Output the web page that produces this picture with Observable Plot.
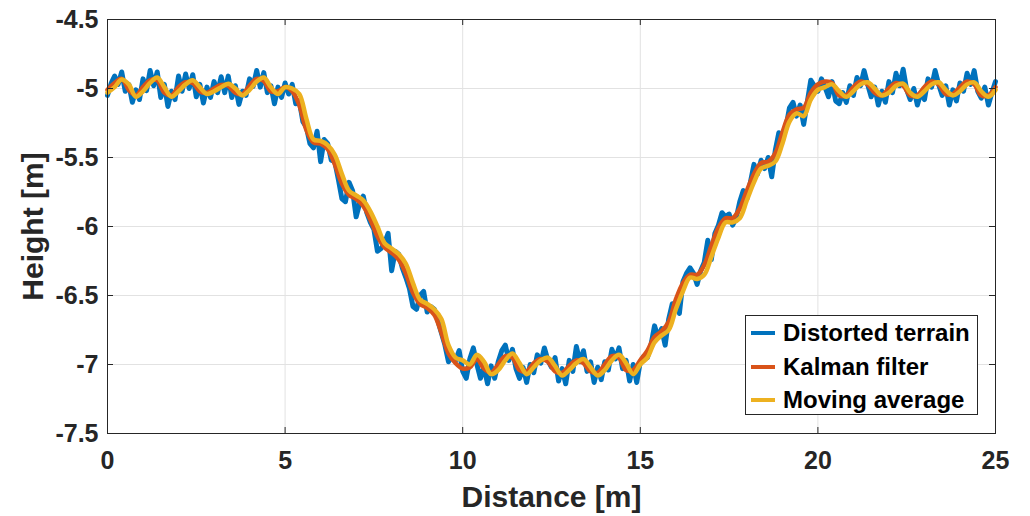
<!DOCTYPE html>
<html><head><meta charset="utf-8">
<script src="https://cdn.jsdelivr.net/npm/d3@7"></script>
<script src="https://cdn.jsdelivr.net/npm/@observablehq/plot@0.6"></script>
<style>
body{margin:0;background:#fff;}
#wrap{position:relative;width:1030px;height:516px;font-family:"Liberation Sans",Arial,Helvetica,sans-serif;}
#legend{position:absolute;left:745px;top:315px;width:233px;height:100px;border:1px solid #262626;background:#fff;box-sizing:border-box;}
.row{position:absolute;left:0;height:30px;display:flex;align-items:center;}
.sw{width:24px;height:4px;margin-left:5px;margin-right:8px;}
.lbl{font-size:24px;font-weight:bold;color:#000;white-space:nowrap;}
</style></head><body><div id="wrap"></div>
<script>
// Tick values
const xTicks = [0, 5, 10, 15, 20, 25];
const yTicks = [-7.5, -7, -6.5, -6, -5.5, -5, -4.5];

// Series names and colours
const seriesNames = ["Distorted terrain", "Kalman filter", "Moving average"];
const seriesColors = ["#0072BD", "#D95319", "#EDB120"];

// Distorted terrain, sampled every 0.1 m from 0 to 25 m
const terrainStep = 0.1;
const terrainHeight = [
 -5.05,-4.965,-4.91,-4.97,-4.88,-5.02,-4.97,-5.10,-5.01,-5.08,
 -4.93,-5.015,-4.87,-4.98,-4.88,-5.065,-4.97,-5.13,-5.02,-5.08,
 -4.91,-5.02,-4.895,-5.0,-4.90,-5.06,-4.97,-5.105,-4.99,-5.065,
 -4.95,-5.03,-4.915,-5.03,-4.91,-5.065,-4.98,-5.115,-5.02,-5.05,
 -4.93,-4.985,-4.87,-4.99,-4.885,-5.03,-4.98,-5.11,-4.99,-5.065,
 -4.96,-5.04,-4.97,-5.11,-5.09,-5.24,-5.28,-5.40,-5.43,-5.31,
 -5.53,-5.37,-5.40,-5.52,-5.53,-5.66,-5.80,-5.82,-5.68,-5.74,
 -5.93,-5.83,-5.78,-5.90,-5.97,-6.02,-6.18,-6.16,-6.12,-6.05,
 -6.32,-6.18,-6.20,-6.30,-6.37,-6.45,-6.58,-6.60,-6.50,-6.47,
 -6.62,-6.58,-6.60,-6.68,-6.77,-6.86,-6.98,-6.93,-6.97,-6.90,
 -7.05,-7.10,-6.96,-6.88,-7.0,-7.1,-7.02,-7.14,-7.01,-7.10,
 -6.98,-6.90,-6.86,-6.97,-6.89,-7.03,-7.10,-7.02,-7.13,-7.0,
 -7.06,-6.93,-6.99,-6.88,-6.97,-7.02,-6.95,-7.12,-7.03,-7.14,
 -6.97,-7.05,-6.87,-6.98,-6.90,-7.05,-6.98,-7.13,-7.02,-7.11,
 -6.98,-7.04,-6.89,-6.96,-6.88,-7.03,-6.97,-7.12,-7.0,-7.13,
 -6.98,-6.94,-6.95,-6.86,-6.72,-6.80,-6.74,-6.86,-6.67,-6.56,
 -6.56,-6.63,-6.40,-6.34,-6.30,-6.34,-6.42,-6.32,-6.26,-6.10,
 -6.24,-6.05,-5.99,-5.90,-5.93,-5.91,-5.99,-5.94,-5.82,-5.74,
 -5.80,-5.68,-5.55,-5.62,-5.52,-5.58,-5.50,-5.64,-5.45,-5.32,
 -5.38,-5.28,-5.14,-5.10,-5.20,-5.12,-5.26,-5.10,-4.94,-4.98,
 -5.02,-4.93,-4.99,-5.06,-4.95,-5.09,-5.11,-5.03,-5.10,-4.98,
 -5.05,-4.92,-4.98,-4.87,-4.97,-5.06,-4.99,-5.12,-5.02,-5.10,
 -4.95,-5.03,-4.89,-4.98,-4.86,-5.01,-5.08,-5.0,-5.12,-5.03,
 -5.08,-4.93,-4.99,-4.87,-4.97,-5.05,-4.98,-5.12,-5.01,-5.09,
 -4.96,-5.02,-4.89,-4.97,-4.87,-5.02,-5.07,-4.99,-5.12,-5.03,
 -4.95
];

// Filtered estimates, sampled every 0.2 m from 0 to 25 m
const filterStep = 0.2;
const kalmanHeight = [
 -5.01,-4.96,-4.93,-5.01,-5.05,-4.99,-4.94,-4.94,-5.03,-5.05,
 -4.99,-4.955,-4.96,-5.02,-5.03,-5.0,-4.975,-4.98,-5.03,-5.04,
 -4.98,-4.93,-4.945,-5.02,-5.02,-4.99,-5.02,-5.12,-5.3,-5.39,
 -5.4,-5.44,-5.55,-5.69,-5.77,-5.8,-5.85,-5.95,-6.07,-6.15,
 -6.19,-6.24,-6.34,-6.48,-6.56,-6.59,-6.64,-6.77,-6.92,-6.99,
 -7.03,-7.02,-6.96,-7.03,-7.06,-7.0,-6.94,-6.95,-7.04,-7.05,
 -6.99,-6.96,-6.98,-7.05,-7.06,-7.01,-6.97,-6.99,-7.05,-7.06,
 -7.0,-6.94,-6.95,-7.04,-7.04,-6.97,-6.9,-6.8,-6.76,-6.69,
 -6.53,-6.41,-6.35,-6.35,-6.28,-6.14,-6.01,-5.94,-5.94,-5.87,
 -5.74,-5.62,-5.54,-5.53,-5.47,-5.32,-5.19,-5.15,-5.14,-5.03,
 -4.97,-4.95,-4.96,-5.05,-5.05,-4.99,-4.95,-4.97,-5.03,-5.05,
 -5.0,-4.96,-4.98,-5.05,-5.05,-4.99,-4.95,-4.97,-5.04,-5.04,
 -4.99,-4.95,-4.97,-5.05,-5.05,-4.99
];
const movingAvgHeight = [
 -5.03,-4.99,-4.935,-4.97,-5.06,-5.02,-4.96,-4.92,-4.99,-5.06,
 -5.02,-4.97,-4.94,-4.99,-5.04,-5.02,-4.99,-4.965,-5.0,-5.05,
 -5.01,-4.95,-4.92,-4.99,-5.04,-4.99,-5.0,-5.04,-5.22,-5.37,
 -5.38,-5.41,-5.48,-5.62,-5.74,-5.775,-5.81,-5.89,-6.0,-6.12,
 -6.16,-6.2,-6.27,-6.41,-6.53,-6.56,-6.6,-6.67,-6.86,-6.95,
 -6.97,-7.0,-6.93,-6.98,-7.07,-7.04,-6.97,-6.92,-6.99,-7.07,
 -7.02,-6.97,-6.95,-7.01,-7.08,-7.04,-6.99,-6.96,-7.02,-7.08,
 -7.04,-6.97,-6.93,-6.99,-7.07,-7.0,-6.95,-6.84,-6.79,-6.75,
 -6.6,-6.47,-6.37,-6.38,-6.35,-6.22,-6.08,-5.97,-5.97,-5.94,
 -5.81,-5.68,-5.58,-5.56,-5.53,-5.4,-5.24,-5.18,-5.2,-5.08,
 -5.01,-4.99,-4.97,-5.02,-5.06,-5.02,-4.97,-4.955,-5.0,-5.05,
 -5.03,-4.98,-4.965,-5.03,-5.06,-5.02,-4.97,-4.955,-5.01,-5.05,
 -5.02,-4.97,-4.955,-5.02,-5.06,-5.01
];

const xLabel = "Distance [m]";
const yLabel = "Height [m]";

const toRows = (vals, step) => vals.map((h, i) => ({d: +(i * step).toFixed(2), h}));
const terrain = toRows(terrainHeight, terrainStep);
const kalman = toRows(kalmanHeight, filterStep);
const movavg = toRows(movingAvgHeight, filterStep);

const axisColor = "#262626";
const fw = 1030 - 107 - 35, fh = 516 - 19 - 83;

const chart = Plot.plot({
  width: 1030, height: 516,
  marginLeft: 107, marginRight: 35, marginTop: 19, marginBottom: 83,
  x: {domain: [0, 25]},
  y: {domain: [-7.5, -4.5]},
  style: {fontFamily: '"Liberation Sans", Arial, Helvetica, sans-serif', background: "#fff", color: axisColor},
  marks: [
    Plot.gridX(xTicks, {stroke: "#e2e2e2", strokeOpacity: 1}),
    Plot.gridY(yTicks, {stroke: "#e2e2e2", strokeOpacity: 1}),
    Plot.line(terrain, {x: "d", y: "h", stroke: seriesColors[0], strokeWidth: 5, strokeLinejoin: "round"}),
    Plot.line(kalman, {x: "d", y: "h", stroke: seriesColors[1], strokeWidth: 4.5, curve: "catmull-rom"}),
    Plot.line(movavg, {x: "d", y: "h", stroke: seriesColors[2], strokeWidth: 4.5, curve: "catmull-rom"}),
    Plot.frame({stroke: axisColor, strokeWidth: 1}),
    Plot.tickX(xTicks, {x: d => d, insetTop: fh - 6, stroke: axisColor}),
    Plot.tickX(xTicks, {x: d => d, insetBottom: fh - 6, stroke: axisColor}),
    Plot.tickY(yTicks, {y: d => d, insetRight: fw - 6, stroke: axisColor}),
    Plot.tickY(yTicks, {y: d => d, insetLeft: fw - 6, stroke: axisColor}),
    Plot.axisX(xTicks, {tickSize: 0, tickPadding: 18, fontSize: 25, fontWeight: "bold", label: null, tickFormat: d => String(d)}),
    Plot.axisY(yTicks, {tickSize: 0, tickPadding: 9, fontSize: 25, fontWeight: "bold", label: null, tickFormat: d => String(d)}),
    Plot.text([xLabel], {text: d => d, frameAnchor: "bottom", dy: 64, lineAnchor: "middle", textAnchor: "middle", fontSize: 30, fontWeight: "bold", fill: axisColor}),
    Plot.text([yLabel], {text: d => d, frameAnchor: "left", dx: -74, rotate: -90, lineAnchor: "middle", textAnchor: "middle", fontSize: 30, fontWeight: "bold", fill: axisColor})
  ]
});

const wrap = document.getElementById("wrap");
wrap.appendChild(chart);

const legend = document.createElement("div");
legend.id = "legend";
seriesNames.forEach((name, i) => {
  const row = document.createElement("div");
  row.className = "row";
  row.style.top = (2 + i * 33.5) + "px";
  const sw = document.createElement("div");
  sw.className = "sw";
  sw.style.background = seriesColors[i];
  const lbl = document.createElement("span");
  lbl.className = "lbl";
  lbl.textContent = name;
  row.appendChild(sw); row.appendChild(lbl);
  legend.appendChild(row);
});
wrap.appendChild(legend);
</script></body></html>
